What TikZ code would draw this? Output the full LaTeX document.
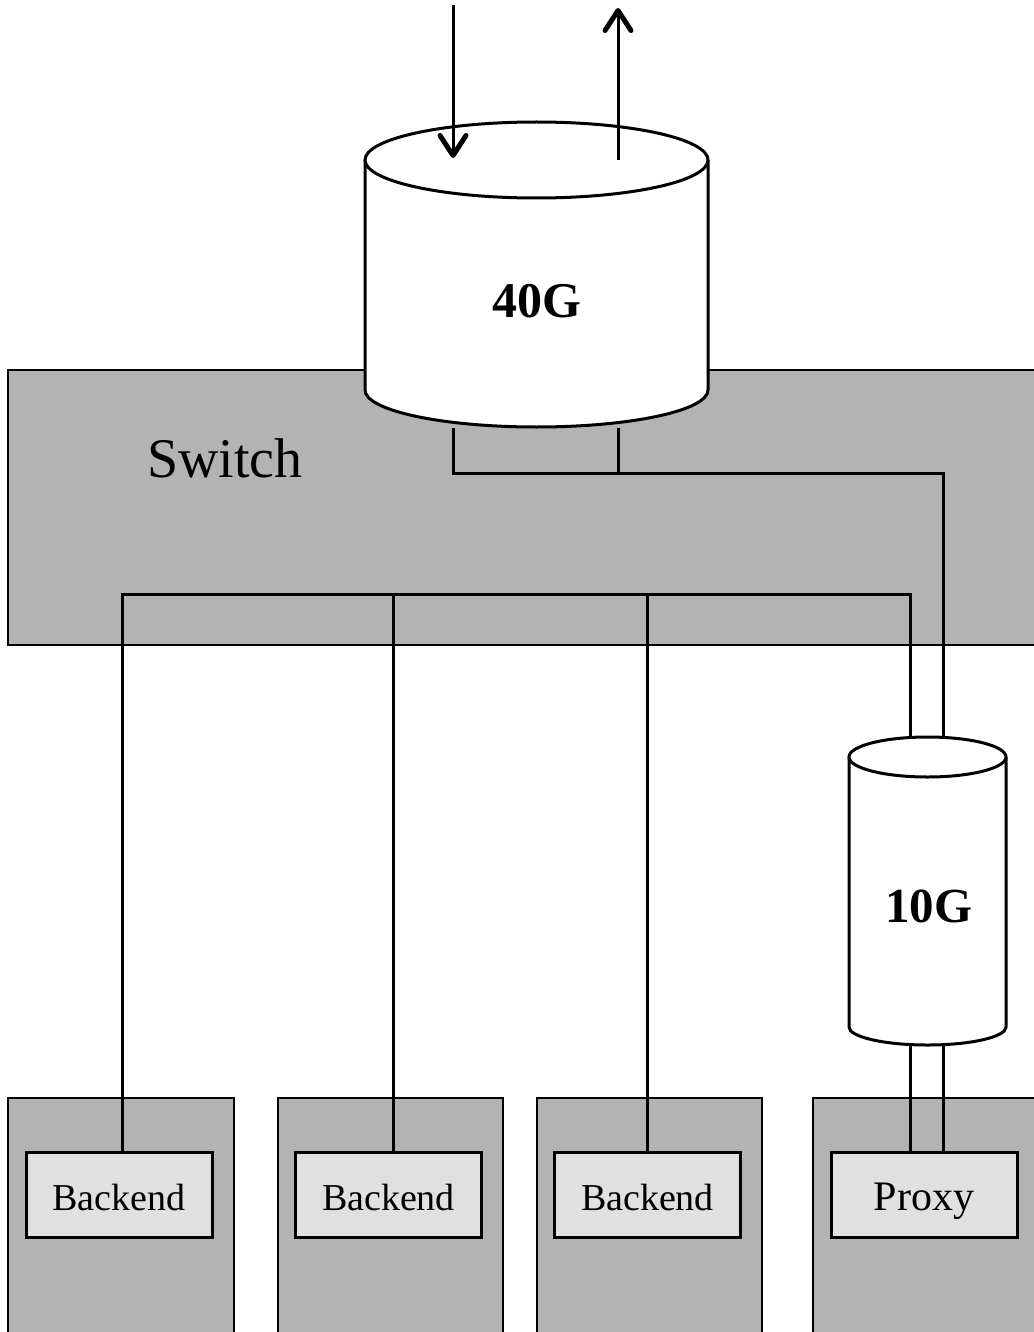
\documentclass[tikz,border=0pt]{standalone}
\usepackage{fontspec}
\setmainfont{Liberation Serif}
\usetikzlibrary{arrows.meta}
\definecolor{boxgray}{HTML}{B3B3B3}
\definecolor{innergray}{HTML}{E0E0E0}
\tikzset{
  outerbox/.style={draw, fill=boxgray, line width=2.5pt},
  innerbox/.style={draw, fill=innergray, line width=3pt, minimum width=186pt, minimum height=85pt, inner sep=0pt},
  wire/.style={draw, line width=3pt},
  cyl/.style={draw, fill=white, line width=3pt},
  flow/.style={wire, -{Straight Barb[length=20pt,width=26pt,line width=5pt,line cap=round,line join=round]}},
  lbl/.style={inner sep=0pt, anchor=base}
}
\begin{document}
\begin{tikzpicture}[x=1pt,y=-1pt]
\useasboundingbox (0,0) rectangle (1033,1332);
% switch
\draw[outerbox] (8,370) rectangle (1045,645);
\node[lbl, font=\fontsize{56}{60}\selectfont] (sw) at (225,477) {Switch};
% big cylinder
\filldraw[cyl] (365,160) -- (365,390) arc[start angle=180, end angle=360, x radius=171.5pt, y radius=37pt] -- (708,160);
\draw[cyl] (536.5,160) ellipse [x radius=171.5pt, y radius=38pt];
\node[lbl, font=\bfseries\fontsize{50}{54}\selectfont] (c40) at (537,317) {40G};
% small cylinder
\filldraw[cyl] (849,757) -- (849,1027) arc[start angle=180, end angle=360, x radius=78.5pt, y radius=18pt] -- (1006,757);
\draw[cyl] (927.5,757) ellipse [x radius=78.5pt, y radius=20pt];
\node[lbl, font=\bfseries\fontsize{49}{53}\selectfont] (c10) at (929,922) {10G};
% hosts
\draw[outerbox] (8,1098) rectangle (234,1340);
\draw[outerbox] (278,1098) rectangle (503,1340);
\draw[outerbox] (537,1098) rectangle (762,1340);
\draw[outerbox] (813,1098) rectangle (1045,1340);
\node[innerbox] (b1) at (119,1194.5) {};
\node[innerbox] (b2) at (388.5,1194.5) {};
\node[innerbox] (b3) at (647.5,1194.5) {};
\node[innerbox] (px) at (924,1194.5) {};
\node[lbl, font=\fontsize{38}{40}\selectfont] (t1) at (119,1210) {Backend};
\node[lbl, font=\fontsize{38}{40}\selectfont] (t2) at (388.5,1210) {Backend};
\node[lbl, font=\fontsize{38}{40}\selectfont] (t3) at (647.5,1210) {Backend};
\node[lbl, font=\fontsize{42}{44}\selectfont] (t4) at (924,1210) {Proxy};
% coordinates
\coordinate (inS) at (453,5);
\coordinate (inE) at (453,158);
\coordinate (outS) at (618,160);
\coordinate (outE) at (618,8);
\coordinate (bigA) at (453,428);
\coordinate (bigB) at (618,428);
\coordinate (upper) at (943,473);
\coordinate (smA) at (910,738);
\coordinate (smB) at (943,738);
\coordinate (smA2) at (910,1045);
\coordinate (smB2) at (943,1045);
\coordinate (bus) at (910,594);
\coordinate (busL) at (122,594);
\coordinate (d2) at (393,594);
\coordinate (d3) at (647,594);
% connectors
\draw[flow] (inS) -- (inE);
\draw[flow] (outS) -- (outE);
\draw[wire] (bigA) |- (upper) -- (smB);
\draw[wire] (bigB) -- (bigB |- upper);
\draw[wire] (smA) -- (bus) -- (busL) -- (busL |- b1.north);
\draw[wire] (d2) -- (d2 |- b2.north);
\draw[wire] (d3) -- (d3 |- b3.north);
\draw[wire] (smA2) -- (smA2 |- px.north);
\draw[wire] (smB2) -- (smB2 |- px.north);
\end{tikzpicture}
\end{document}
